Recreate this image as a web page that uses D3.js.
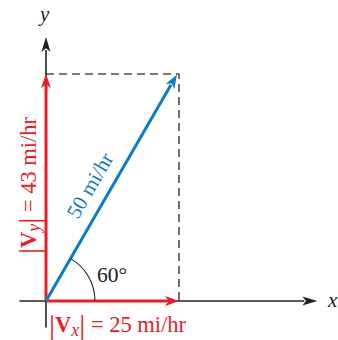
<!DOCTYPE html>
<html><head><meta charset="utf-8">
<script src="https://cdn.jsdelivr.net/npm/d3@7"></script>
<style>body{margin:0;background:#fff}svg{display:block}text{font-family:"Liberation Serif",serif}</style>
</head><body>
<svg id="c" width="338" height="340"></svg>
<script>
const speed = [50];
const angleDeg = [60];
const vxVal = [25];
const vyVal = [43];
const axisRangeX = [-5, 51];
const axisRangeY = [-5, 50];
const labels = { vx: "25 mi/hr", vy: "43 mi/hr", v: "50 mi/hr", ang: "60°" };

const RED = "#ec1c24", BLUE = "#0a7cc4", BLACK = "#231f20", DASH = "#4d4d4d";
const svg = d3.select("#c");
const x = d3.scaleLinear().domain([0, 25]).range([46, 179]);
const y = d3.scaleLinear().domain([0, 43]).range([301, 74]);

function arrow(x1, y1, x2, y2, color, w, hl, hw) {
  const a = Math.atan2(y2 - y1, x2 - x1);
  const bx = x2 - hl * Math.cos(a), by = y2 - hl * Math.sin(a);
  svg.append("line").attr("x1", x1).attr("y1", y1).attr("x2", bx + 2*Math.cos(a)).attr("y2", by + 2*Math.sin(a))
    .attr("stroke", color).attr("stroke-width", w);
  const px = -Math.sin(a), py = Math.cos(a);
  const ix = x2 - hl*0.75*Math.cos(a), iy = y2 - hl*0.75*Math.sin(a);
  svg.append("path").attr("d",
    `M${x2},${y2}L${bx + px*hw/2},${by + py*hw/2}L${ix},${iy}L${bx - px*hw/2},${by - py*hw/2}Z`)
    .attr("fill", color);
}

// dashed rectangle
svg.append("path")
  .attr("d", `M${x(0)},${y(vyVal[0])}H${x(vxVal[0])}V${y(0)}`)
  .attr("fill", "none").attr("stroke", DASH).attr("stroke-width", 1.6)
  .attr("stroke-dasharray", "8,5");

// axes
arrow(x(axisRangeX[0]), y(0), x(axisRangeX[1]), y(0), BLACK, 1.6, 15, 9);
arrow(x(0), y(axisRangeY[0]), x(0), y(axisRangeY[1]), BLACK, 1.6, 15, 9);

// components
arrow(x(0), y(0), x(vxVal[0]), y(0), RED, 3, 14, 10);
arrow(x(0), y(0), x(0), y(vyVal[0]), RED, 3, 14, 10);

// resultant
const th = angleDeg[0] * Math.PI / 180;
const ex = x(speed[0] * Math.cos(th)), ey = y(speed[0] * Math.sin(th));
arrow(x(0), y(0), ex - 2, ey + 2, BLUE, 3, 14, 10);

// angle arc
const r = 49;
svg.append("path")
  .attr("d", d3.arc()({innerRadius: r, outerRadius: r, startAngle: Math.PI/2, endAngle: Math.PI/2 - Math.atan2(y(0)-ey, ex - x(0))}))
  .attr("transform", `translate(${x(0)},${y(0)})`)
  .attr("fill", "none").attr("stroke", BLACK).attr("stroke-width", 1.1);

svg.append("text").attr("x", 97).attr("y", 282).attr("font-size", 21.5)
  .attr("fill", BLACK).text(labels.ang);

// axis labels
svg.append("text").attr("x", 40).attr("y", 21).attr("font-style", "italic")
  .attr("font-size", 21).attr("fill", BLACK).text("y");
svg.append("text").attr("x", 328).attr("y", 307).attr("font-style", "italic")
  .attr("font-size", 21).attr("fill", BLACK).text("x");

// component labels
function compLabel(g, sub, val) {
  const t = g.append("text").attr("font-size", 22.5).attr("fill", RED);
  t.append("tspan").attr("font-size", 30).attr("dy", 3).text("|");
  t.append("tspan").attr("font-weight", "bold").attr("dy", -3).text("V");
  t.append("tspan").attr("font-style", "italic").attr("font-size", 18).attr("dy", 4).text(sub);
  t.append("tspan").attr("font-size", 30).attr("dy", -1).text("|");
  t.append("tspan").attr("dy", -3).text(" = " + val);
  return t;
}
compLabel(svg.append("g").attr("transform", "translate(49,332)"), "x", labels.vx);
compLabel(svg.append("g").attr("transform", "translate(36,254) rotate(-90)"), "y", labels.vy);

// resultant label
const ang = Math.atan2(ey - y(0), ex - x(0)) * 180 / Math.PI;
svg.append("text").attr("transform", `translate(78,220) rotate(${ang})`)
  .attr("font-size", 21).attr("fill", BLUE).text(labels.v);
</script>
</body></html>
